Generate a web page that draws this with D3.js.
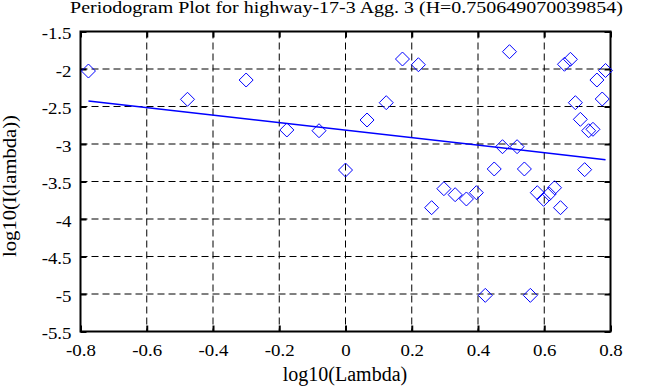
<!DOCTYPE html>
<html><head><meta charset="utf-8">
<script src="https://cdn.jsdelivr.net/npm/d3@7"></script>
<style>body{margin:0;background:#fff}svg{display:block}text{font-family:"Liberation Serif","DejaVu Serif",serif;fill:#000}</style>
</head><body>
<svg id="c" width="663" height="387"></svg>
<script>
const title = "Periodogram Plot for highway-17-3 Agg. 3 (H=0.750649070039854)";
const xLabel = "log10(Lambda)";
const yLabel = "log10(I(lambda))";
const xTicks = [-0.8,-0.6,-0.4,-0.2,0,0.2,0.4,0.6,0.8];
const yTicks = [-1.5,-2,-2.5,-3,-3.5,-4,-4.5,-5,-5.5];
const logLambda = [-0.776,-0.477,-0.300,-0.177,-0.080,0.000,0.065,0.123,0.172,0.220,
  0.260,0.297,0.331,0.365,0.395,0.422,0.449,0.474,0.495,0.518,0.540,0.558,0.579,0.598,
  0.615,0.631,0.649,0.661,0.679,0.694,0.709,0.722,0.734,0.747,0.759,0.775,0.785];
const logI = [-2.027,-2.404,-2.147,-2.813,-2.823,-3.347,-2.680,-2.449,-1.867,-1.943,
  -3.849,-3.596,-3.676,-3.733,-3.649,-5.018,-3.333,-3.036,-1.769,-3.036,-3.333,-5.018,-3.649,-3.738,
  -3.667,-3.583,-3.849,-1.937,-1.871,-2.449,-2.671,-3.342,-2.823,-2.804,-2.147,-2.400,-2.020];
const fitSlope = -0.5013;
const fitIntercept = -2.815;

const svg = d3.select("#c");
const L=80.5, R=610.5, T=31.5, B=331.5;
const x = d3.scaleLinear().domain([-0.8,0.8]).range([L,R]);
const y = d3.scaleLinear().domain([-5.5,-1.5]).range([B,T]);
const sx = 1.18; // horizontal stretch of the reference's tick lettering

// grid
const g = svg.append("g");
g.selectAll(".gx").data(xTicks.slice(1,-1)).join("line")
  .attr("x1",d=>x(d)).attr("x2",d=>x(d)).attr("y1",T).attr("y2",B)
  .attr("stroke","#000").attr("stroke-width",1).attr("stroke-dasharray","7,4");
g.selectAll(".gy").data(yTicks.slice(1,-1)).join("line")
  .attr("y1",d=>y(d)).attr("y2",d=>y(d)).attr("x1",L).attr("x2",R)
  .attr("stroke","#000").attr("stroke-width",1).attr("stroke-dasharray","7,4");

// axes with inward ticks
const tl = 6;
const fmt = d=>String(d);
const ax = svg.append("g").attr("transform",`translate(0,${B})`)
  .call(d3.axisBottom(x).tickValues(xTicks).tickSizeInner(-tl).tickSizeOuter(0).tickPadding(13.5).tickFormat(fmt));
const axT = svg.append("g").attr("transform",`translate(0,${T})`)
  .call(d3.axisTop(x).tickValues(xTicks).tickSizeInner(-tl).tickSizeOuter(0).tickFormat(""));
const ay = svg.append("g").attr("transform",`translate(${L},0)`)
  .call(d3.axisLeft(y).tickValues(yTicks).tickSizeInner(-tl).tickSizeOuter(0).tickPadding(9).tickFormat(fmt));
const ayR = svg.append("g").attr("transform",`translate(${R},0)`)
  .call(d3.axisRight(y).tickValues(yTicks).tickSizeInner(-tl).tickSizeOuter(0).tickFormat(""));
[ax,axT,ay,ayR].forEach(a=>{
  a.select(".domain").remove();
  a.selectAll(".tick line").attr("stroke","#000").attr("stroke-width",2);
  a.selectAll("text").attr("font-size",16).attr("font-family","Liberation Serif").attr("fill","#000");
});
ax.selectAll(".tick text").attr("transform",`scale(${sx},1)`);
ay.selectAll(".tick text").attr("x",-9/sx).attr("dy","0.44em").attr("transform",`scale(${sx},1)`);
svg.append("rect").attr("x",L).attr("y",T).attr("width",R-L).attr("height",B-T)
  .attr("fill","none").attr("stroke","#000").attr("stroke-width",2);

// fit line
const xr = d3.extent(logLambda);
svg.append("line").attr("x1",x(xr[0])).attr("y1",y(fitIntercept+fitSlope*xr[0]))
  .attr("x2",x(xr[1])).attr("y2",y(fitIntercept+fitSlope*xr[1]))
  .attr("stroke","#0000ff").attr("stroke-width",1.5);

// diamonds
const s = 7;
svg.append("g").selectAll("path").data(logLambda.map((v,i)=>[v,logI[i]])).join("path")
  .attr("d",d=>{const cx=x(d[0]),cy=y(d[1]);return `M${cx},${cy-s}L${cx+s},${cy}L${cx},${cy+s}L${cx-s},${cy}Z`;})
  .attr("fill","none").attr("stroke","#0000ff").attr("stroke-width",1);

// labels (stretched horizontally along their reading direction to match reference lettering)
function stretched(txt, size, width, tf){
  const t = svg.append("text").attr("text-anchor","middle").attr("font-size",size).text(txt);
  const w = t.node().getComputedTextLength() || width;
  t.attr("transform", `${tf} scale(${width/w},1)`);
  return t;
}
stretched(title, 16, 553, "translate(346.4,13)");
svg.append("text").attr("x",345).attr("y",381).attr("text-anchor","middle").attr("font-size",20).text(xLabel);
stretched(yLabel, 19, 142, "translate(16,186) rotate(-90)");
</script>
</body></html>
